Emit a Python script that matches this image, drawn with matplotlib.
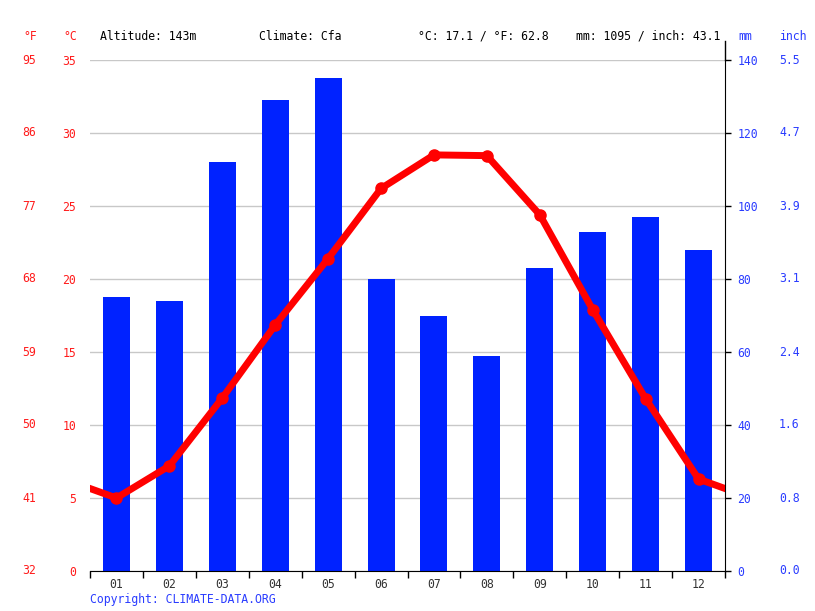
import matplotlib
matplotlib.use("Agg")
import matplotlib.pyplot as plt
from matplotlib.lines import Line2D
import matplotlib.transforms as mtrans

months = ["01", "02", "03", "04", "05", "06", "07", "08", "09", "10", "11", "12"]
precip_mm = [75, 74, 112, 129, 135, 80, 70, 59, 83, 93, 97, 88]
temp_c = [5.0, 7.2, 11.85, 16.85, 21.4, 26.2, 28.5, 28.45, 24.4, 17.9, 11.8, 6.3]
c_ticks = [0, 5, 10, 15, 20, 25, 30, 35]
mm_ticks = [0, 20, 40, 60, 80, 100, 120, 140]
header = ["Altitude: 143m", "Climate: Cfa", "°C: 17.1 / °F: 62.8", "mm: 1095 / inch: 43.1"]

FONT = "DejaVu Sans Mono"
FS = 8.3
RED = "#ff1a1a"
BLUE = "#2a3cff"
BAR = "#0022ff"

plt.rcParams["font.family"] = FONT
fig = plt.figure(figsize=(8.15, 6.11), dpi=100)
W, H = 815, 611
L, R, T, B = 90, 725, 60, 571
ax = fig.add_axes([L / W, 1 - B / H, (R - L) / W, (B - T) / H])
x = list(range(1, 13))

# temperature on twin axes (created first so tick sides can be set afterwards)
ax2 = ax.twinx()

# bars (precip) on ax
ax.bar(x, precip_mm, width=0.51, color=BAR, zorder=2)
ax.set_ylim(0, 140)
ax.set_xlim(0.5, 12.5)
ax.set_yticks(mm_ticks)
ax.yaxis.grid(True, color="#c8c8c8", lw=1, zorder=0)
ax.set_axisbelow(True)
for s in ["top", "left"]:
    ax.spines[s].set_visible(False)
ax.spines["right"].set_visible(True)
ax.spines["right"].set_color("black")
ax.spines["bottom"].set_color("black")
ax.yaxis.tick_right()
ax.yaxis.set_label_position("right")
ax.tick_params(axis="y", which="both", left=False, labelleft=False, right=True,
               labelright=True, colors="black", labelcolor=BLUE, length=4, width=1,
               labelsize=FS, pad=5)
ax.set_yticklabels([str(v) for v in mm_ticks])
ax.set_xticks(x)
ax.set_xticklabels(months, fontsize=FS, color="#333333")
ax.tick_params(axis="x", length=0, pad=5)
ax.set_xticks([i + 0.5 for i in range(0, 13)], minor=True)
ax.tick_params(axis="x", which="minor", length=5, width=1, color="black")

ax2.set_ylim(0, 35)
ax2.set_xlim(0.5, 12.5)
for s in ["top", "left", "right", "bottom"]:
    ax2.spines[s].set_visible(False)
ax2.set_yticks(c_ticks)
ax2.set_yticklabels([str(v) for v in c_ticks])
ax2.tick_params(axis="y", left=True, labelleft=True, right=False, labelright=False,
                length=0, labelcolor=RED, labelsize=FS, pad=10)
xc = [0] + x + [13]
yc = [temp_c[-1]] + temp_c + [temp_c[0]]
ax2.plot(xc, yc, color="#ff0000", lw=5, solid_capstyle="butt", zorder=3, clip_on=True)
ax2.plot(x, temp_c, "o", color="#ff0000", ms=8, zorder=4)

# °F labels and inch labels
trL = mtrans.blended_transform_factory(fig.transFigure, ax2.transData)
for c in c_ticks:
    f = c * 9 / 5 + 32
    ax2.text(36 / W, c, f"{f:.0f}", transform=trL, ha="right", va="center",
             color=RED, fontsize=FS, clip_on=False)
trR = mtrans.blended_transform_factory(fig.transFigure, ax.transData)
for m in mm_ticks:
    ax.text(779 / W, m, f"{m / 25.4:.1f}", transform=trR, ha="left", va="center",
            color=BLUE, fontsize=FS, clip_on=False)

# right spine extension above plot
fig.add_artist(Line2D([R / W, R / W], [1 - 41 / H, 1 - T / H], color="black", lw=1,
                      transform=fig.transFigure))

# header
hy = 1 - 36 / H
fig.text(30 / W, hy, "°F", color=RED, fontsize=FS, ha="center", va="center")
fig.text(70 / W, hy, "°C", color=RED, fontsize=FS, ha="center", va="center")
for xs, t in zip([100, 259, 418, 576], header):
    fig.text(xs / W, hy, t, color="black", fontsize=FS, ha="left", va="center")
fig.text(738 / W, hy, "mm", color=BLUE, fontsize=FS, ha="left", va="center")
fig.text(779 / W, hy, "inch", color=BLUE, fontsize=FS, ha="left", va="center")
fig.text(90 / W, 1 - 599 / H, "Copyright: CLIMATE-DATA.ORG", color=BLUE, fontsize=FS,
         ha="left", va="center")

fig.savefig("out.png", dpi=100)
